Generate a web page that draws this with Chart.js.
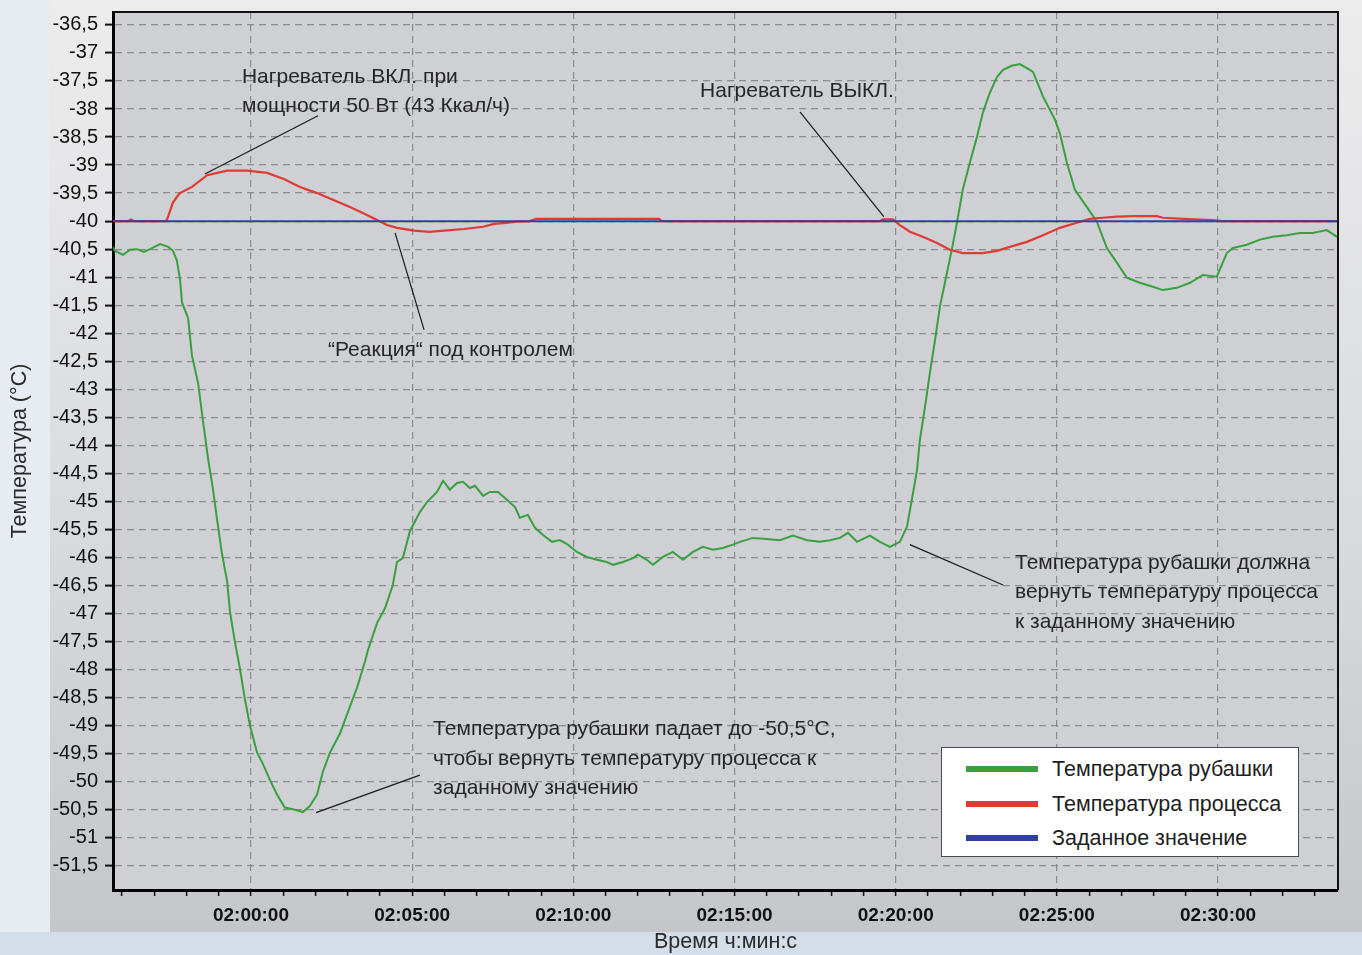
<!DOCTYPE html>
<html lang="ru">
<head>
<meta charset="utf-8">
<title>Температура рубашки и процесса</title>
<script src="https://cdn.jsdelivr.net/npm/chart.js@4.4.0/dist/chart.umd.min.js"></script>
<style>
  html, body { margin: 0; padding: 0; }
  body {
    width: 1362px; height: 955px; position: relative; overflow: hidden;
    background: #e6ecf2;
    font-family: "Liberation Sans", Arial, sans-serif;
  }
  #panel {
    position: absolute; left: 50px; top: 0; width: 1312px; height: 932px;
    background: linear-gradient(to bottom, #ececed 0%, #dadbdd 55%, #c4c6c9 100%);
  }
  #band { position: absolute; left: 0; top: 932px; width: 1362px; height: 23px; background: #d3dee8; }
  #chart { position: absolute; left: 0; top: 0; }
  #legend {
    position: absolute; left: 941px; top: 747px; width: 356px; height: 108px;
    background: #fff; border: 1px solid #4a4a4a;
  }
  #legend .row { position: absolute; left: 0; height: 34px; line-height: 34px; font-size: 21.5px; color: #1e1e1e; white-space: nowrap; }
  #legend .sw { position: absolute; left: 24px; top: 14px; width: 72px; height: 6px; }
  #legend .tx { position: absolute; left: 110px; top: 0; }
</style>
</head>
<body>
<div id="panel"></div>
<div id="band"></div>
<canvas id="chart" width="1362" height="955"></canvas>
<div id="legend"></div>

<script>
// ---------------- ДАННЫЕ ----------------
// время в минутах от 00:00 (120 = 02:00:00), температура в °C

// температура рубашки
const jacketTime = [
  115.72, 115.78, 116.03, 116.25, 116.46, 116.68, 116.87, 117.18, 117.43, 117.58,
  117.70, 117.80, 117.86, 118.05, 118.17, 118.36, 118.51, 118.67, 118.82, 118.95,
  119.10, 119.26, 119.35, 119.50, 119.66, 119.81, 119.97, 120.19, 120.37, 120.59,
  120.81, 121.05, 121.36, 121.61, 121.83, 122.05, 122.23, 122.45, 122.76, 123.07,
  123.29, 123.54, 123.63, 123.91, 124.16, 124.40, 124.53, 124.71, 124.93, 125.24,
  125.46, 125.77, 125.96, 126.17, 126.39, 126.58, 126.79, 126.95, 127.20, 127.41,
  127.66, 127.94, 128.19, 128.34, 128.59, 128.81, 129.06, 129.34, 129.58, 129.83,
  130.11, 130.42, 130.73, 131.04, 131.23, 131.54, 131.85, 132.00, 132.28, 132.47,
  132.78, 133.09, 133.40, 133.71, 134.02, 134.33, 134.64, 134.95, 135.17, 135.57,
  136.00, 136.41, 136.81, 137.25, 137.65, 137.96, 138.27, 138.52, 138.80, 139.20,
  139.51, 139.82, 140.13, 140.35, 140.50, 140.66, 140.75, 140.91, 141.06, 141.22,
  141.37, 141.59, 141.74, 141.90, 142.08, 142.30, 142.52, 142.70, 142.92, 143.14,
  143.33, 143.60, 143.85, 144.07, 144.26, 144.57, 144.94, 145.09, 145.31, 145.56,
  145.93, 146.24, 146.55, 146.86, 147.17, 147.57, 147.98, 148.29, 148.72, 149.13,
  149.53, 149.96, 150.27, 150.46, 150.89, 151.30, 151.70, 152.13, 152.54, 152.94,
  153.37, 153.69
];
const jacketTemp = [
  -40.46, -40.53, -40.60, -40.51, -40.50, -40.55, -40.50, -40.41, -40.46, -40.53,
  -40.70, -41.04, -41.45, -41.73, -42.40, -42.89, -43.56, -44.24, -44.78, -45.33,
  -45.93, -46.42, -46.97, -47.50, -47.99, -48.52, -49.00, -49.48, -49.68, -49.97,
  -50.23, -50.46, -50.50, -50.54, -50.43, -50.23, -49.82, -49.48, -49.14, -48.66,
  -48.32, -47.85, -47.65, -47.17, -46.90, -46.49, -46.08, -46.01, -45.53, -45.19,
  -45.01, -44.83, -44.63, -44.79, -44.67, -44.65, -44.76, -44.72, -44.90, -44.83,
  -44.83, -44.97, -45.10, -45.29, -45.24, -45.47, -45.60, -45.72, -45.69, -45.77,
  -45.90, -45.99, -46.04, -46.08, -46.13, -46.08, -46.01, -45.95, -46.04, -46.13,
  -45.99, -45.90, -46.04, -45.90, -45.81, -45.86, -45.83, -45.77, -45.72, -45.65,
  -45.67, -45.69, -45.61, -45.69, -45.72, -45.69, -45.65, -45.56, -45.72, -45.61,
  -45.72, -45.81, -45.72, -45.45, -44.97, -44.44, -43.90, -43.31, -42.71, -42.12,
  -41.53, -40.92, -40.51, -40.03, -39.44, -38.96, -38.50, -38.07, -37.71, -37.43,
  -37.30, -37.23, -37.20, -37.27, -37.34, -37.78, -38.19, -38.43, -38.96, -39.44,
  -39.75, -40.01, -40.48, -40.74, -41.01, -41.10, -41.17, -41.23, -41.19, -41.10,
  -40.96, -40.99, -40.57, -40.48, -40.42, -40.33, -40.28, -40.25, -40.21, -40.21,
  -40.16, -40.28
];

// температура процесса
const processTime = [
  115.72, 116.18, 116.28, 116.37, 117.33, 117.39, 117.58, 117.70, 117.80, 118.17,
  118.64, 119.26, 119.88, 120.50, 121.02, 121.52, 122.05, 122.54, 123.07, 123.60,
  123.91, 124.22, 124.53, 125.06, 125.52, 125.99, 126.61, 127.20, 127.54, 127.91,
  128.25, 128.65, 128.84, 130.83, 132.66, 132.75, 139.51, 139.60, 139.91, 140.13,
  140.44, 140.84, 141.28, 141.68, 142.08, 142.70, 143.14, 143.54, 144.07, 144.57,
  145.09, 145.62, 146.02, 146.43, 146.86, 147.36, 148.10, 148.29, 148.91, 149.84,
  150.12, 153.72
];
const processTemp = [
  -40.00, -40.00, -39.97, -40.00, -40.00, -39.98, -39.67, -39.57, -39.50, -39.39,
  -39.18, -39.10, -39.10, -39.14, -39.25, -39.39, -39.50, -39.62, -39.75, -39.89,
  -39.98, -40.07, -40.12, -40.17, -40.19, -40.17, -40.14, -40.10, -40.05, -40.03,
  -40.01, -40.00, -39.96, -39.96, -39.96, -40.00, -40.00, -39.97, -39.97, -40.07,
  -40.19, -40.28, -40.39, -40.51, -40.57, -40.57, -40.53, -40.46, -40.37, -40.25,
  -40.12, -40.03, -39.96, -39.94, -39.92, -39.91, -39.91, -39.94, -39.96, -39.98,
  -40.00, -40.00
];

// заданное значение
const setpointTime = [115.72, 153.72];
const setpointTemp = [-40, -40];

// подписи осей
const yTicks = [-36.5, -37, -37.5, -38, -38.5, -39, -39.5, -40, -40.5, -41, -41.5, -42, -42.5,
  -43, -43.5, -44, -44.5, -45, -45.5, -46, -46.5, -47, -47.5, -48, -48.5, -49, -49.5,
  -50, -50.5, -51, -51.5];
const xTickLabels = ['02:00:00', '02:05:00', '02:10:00', '02:15:00', '02:20:00', '02:25:00', '02:30:00'];

const seriesNames = ['Температура рубашки', 'Температура процесса', 'Заданное значение'];

// пояснения на графике (координаты в единицах осей)
const notes = [
  { at: [119.72, -37.43], text: ['Нагреватель ВКЛ. при', 'мощности 50 Вт (43 Ккал/ч)'], line: [122.08, -38.12, 118.57, -39.16] },
  { at: [133.93, -37.68], text: ['Нагреватель ВЫКЛ.'], line: [137.03, -38.05, 139.63, -39.92] },
  { at: [122.39, -42.30], text: ['“Реакция“ под контролем'], line: [124.47, -40.21, 125.37, -41.94] },
  { at: [143.70, -46.10], text: ['Температура рубашки должна', 'вернуть температуру процесса', 'к заданному значению'], line: [140.44, -45.77, 143.33, -46.49] },
  { at: [125.65, -49.07], text: ['Температура рубашки падает до -50,5°C,', 'чтобы вернуть температуру процесса к', 'заданному значению'], line: [122.02, -50.55, 125.24, -49.88] }
];

// ---------------- ГРАФИК ----------------
const FONT = '"Liberation Sans", Arial, sans-serif';
Chart.defaults.font.family = FONT;

const labelMinutes = xTickLabels.map(t => {
  const [h, m] = t.split(':').map(Number);
  return h * 60 + m;
});

const toPoints = (xs, ys) => xs.map((x, i) => ({ x: x, y: ys[i] }));

// фон и рамка области построения
const plotFrame = {
  id: 'plotFrame',
  beforeDraw(chart) {
    const { ctx, chartArea: a } = chart;
    ctx.save();
    ctx.fillStyle = '#cfd0d4';
    ctx.fillRect(a.left, a.top, a.width, a.height);
    ctx.restore();
  },
  afterDraw(chart) {
    const { ctx, chartArea: a } = chart;
    ctx.save();
    ctx.strokeStyle = '#111';
    ctx.lineWidth = 2;
    ctx.beginPath();
    ctx.moveTo(a.left, a.top);
    ctx.lineTo(a.right, a.top);
    ctx.lineTo(a.right, a.bottom);
    ctx.stroke();
    ctx.restore();
  }
};

// выноски с текстом
const notesPlugin = {
  id: 'notes',
  afterDatasetsDraw(chart) {
    const { ctx, scales: { x, y } } = chart;
    ctx.save();
    ctx.strokeStyle = '#1a1a1a';
    ctx.lineWidth = 1.2;
    ctx.fillStyle = '#262626';
    ctx.font = '21px ' + FONT;
    ctx.textBaseline = 'middle';
    notes.forEach(n => {
      ctx.beginPath();
      ctx.moveTo(x.getPixelForValue(n.line[0]), y.getPixelForValue(n.line[1]));
      ctx.lineTo(x.getPixelForValue(n.line[2]), y.getPixelForValue(n.line[3]));
      ctx.stroke();
      const px = x.getPixelForValue(n.at[0]);
      const py = y.getPixelForValue(n.at[1]);
      n.text.forEach((t, i) => ctx.fillText(t, px, py + i * 29.5));
    });
    ctx.restore();
  }
};

const chart = new Chart(document.getElementById('chart'), {
  type: 'line',
  data: {
    datasets: [
      { label: seriesNames[0], data: toPoints(jacketTime, jacketTemp), borderColor: '#38a03f', borderWidth: 2, order: 3 },
      { label: seriesNames[1], data: toPoints(processTime, processTemp), borderColor: '#e03a34', borderWidth: 2.2, order: 2 },
      { label: seriesNames[2], data: toPoints(setpointTime, setpointTemp), borderColor: '#3040a0', borderWidth: 2, order: 1 }
    ]
  },
  options: {
    responsive: false,
    animation: false,
    devicePixelRatio: 1,
    layout: { padding: { left: 0, top: 12, right: 24, bottom: 0 } },
    elements: { point: { radius: 0 }, line: { tension: 0 } },
    plugins: { legend: { display: false }, tooltip: { enabled: false } },
    scales: {
      x: {
        type: 'linear',
        min: 115.72,
        max: 153.72,
        afterBuildTicks(scale) {
          const ticks = [];
          for (let m = Math.ceil(scale.min); m <= Math.floor(scale.max); m++) ticks.push({ value: m });
          scale.ticks = ticks;
        },
        afterFit(scale) {
          scale.height = 65;
          scale.paddingLeft = 0; scale.paddingRight = 0;
        },
        ticks: {
          autoSkip: false,
          maxRotation: 0,
          padding: 8,
          color: '#111',
          font: { size: 19, weight: 'bold' },
          callback(value) {
            const i = labelMinutes.indexOf(value);
            return i >= 0 ? xTickLabels[i] : '';
          }
        },
        grid: {
          color: ctx => (ctx.tick && labelMinutes.includes(ctx.tick.value)) ? '#8a8a8a' : 'rgba(0,0,0,0)',
          lineWidth: 1.2,
          tickColor: '#111',
          tickLength: 6,
          tickWidth: 1.5
        },
        border: { display: true, color: '#000', width: 3, dash: [7, 5] },
        title: { display: true, text: 'Время ч:мин:с', color: '#2a2a2a', font: { size: 21.5 }, padding: { top: 0, bottom: 0 } }
      },
      y: {
        type: 'linear',
        min: -51.93,
        max: -36.27,
        afterBuildTicks(scale) {
          scale.ticks = yTicks.map(v => ({ value: v }));
        },
        afterFit(scale) {
          scale.width = 113;
          scale.paddingTop = 0; scale.paddingBottom = 0;
        },
        ticks: {
          autoSkip: false,
          padding: 7,
          color: '#111',
          font: { size: 20 },
          callback: value => String(value).replace('.', ',')
        },
        grid: {
          color: '#8a8a8a',
          lineWidth: 1.2,
          tickColor: '#111',
          tickLength: 8,
          tickWidth: 2
        },
        border: { display: true, color: '#000', width: 3, dash: [7, 5] },
        title: { display: true, text: 'Температура (°C)', color: '#2a2a2a', font: { size: 21.5 }, padding: { top: 7, bottom: 0 } }
      }
    }
  },
  plugins: [plotFrame, notesPlugin]
});

// легенда
const legend = document.getElementById('legend');
chart.data.datasets.forEach((ds, i) => {
  const row = document.createElement('div');
  row.className = 'row';
  row.style.top = (4 + i * 34.5) + 'px';
  row.style.width = '100%';
  row.innerHTML = '<span class="sw" style="background:' + ds.borderColor + '"></span><span class="tx">' + ds.label + '</span>';
  legend.appendChild(row);
});
</script>
</body>
</html>
